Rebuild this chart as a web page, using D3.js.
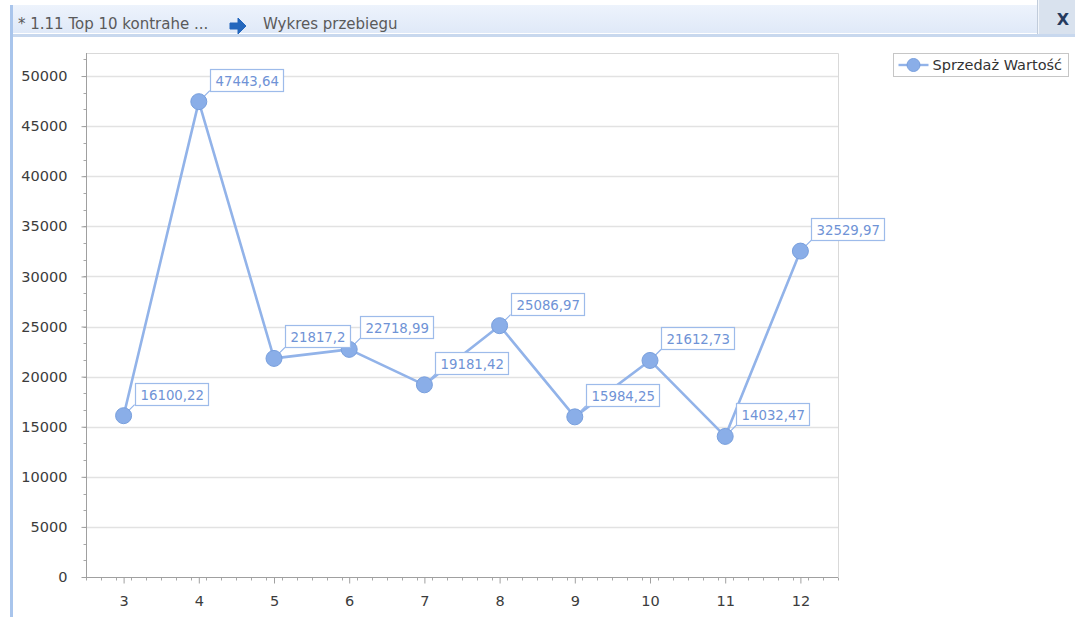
<!DOCTYPE html>
<html>
<head>
<meta charset="utf-8">
<script src="https://cdn.jsdelivr.net/npm/d3@7"></script>
<style>
  html, body { margin: 0; padding: 0; background: #ffffff; }
  svg { display: block; font-family: "DejaVu Sans", Tahoma, sans-serif; }
</style>
</head>
<body>
<svg id="chart" width="1075" height="617"></svg>
<script>
// Monthly sales value series
const months = [3, 4, 5, 6, 7, 8, 9, 10, 11, 12];
const salesValues = [16100.22, 47443.64, 21817.2, 22718.99, 19181.42, 25086.97, 15984.25, 21612.73, 14032.47, 32529.97];
const yTickValues = [0, 5000, 10000, 15000, 20000, 25000, 30000, 35000, 40000, 45000, 50000];
const seriesName = "Sprzedaż Wartość";
const tabTitle = "* 1.11 Top 10 kontrahe ...";
const viewTitle = "Wykres przebiegu";

const svg = d3.select("#chart");
const W = 1075, H = 617;

const lineColor = "#92b3e9";
const markerFill = "#8aaee8";
const markerStroke = "#789fdd";
const labelColor = "#6f93d6";

// ---- window frame / title bar ----
const defs = svg.append("defs");
const grad = defs.append("linearGradient").attr("id", "barGrad")
  .attr("x1", 0).attr("y1", 0).attr("x2", 0).attr("y2", 1);
grad.append("stop").attr("offset", "0%").attr("stop-color", "#edf3fc");
grad.append("stop").attr("offset", "100%").attr("stop-color", "#dfe9f8");

svg.append("rect").attr("x", 12).attr("y", 5).attr("width", W - 12).attr("height", 28)
  .attr("fill", "url(#barGrad)");
svg.append("rect").attr("x", 12).attr("y", 33).attr("width", W - 12).attr("height", 1)
  .attr("fill", "#ffffff");
svg.append("rect").attr("x", 12).attr("y", 34).attr("width", W - 12).attr("height", 3)
  .attr("fill", "#c8d8ee");
svg.append("rect").attr("x", 10).attr("y", 5).attr("width", 3).attr("height", H - 5)
  .attr("fill", "#a9c5ec");

// close button
svg.append("rect").attr("x", 1038).attr("y", 0).attr("width", 37).attr("height", 34)
  .attr("fill", "#d9e2ee");
svg.append("line").attr("x1", 1037.5).attr("x2", 1037.5).attr("y1", 0).attr("y2", 34)
  .attr("stroke", "#c1ccdb");
svg.append("line").attr("x1", 1038.5).attr("x2", 1038.5).attr("y1", 0).attr("y2", 34)
  .attr("stroke", "#f2f6fb");
svg.append("text").attr("x", 1063).attr("y", 25).attr("text-anchor", "middle")
  .attr("font-size", 16).attr("font-weight", "bold").attr("fill", "#253a5e").text("X");

// tab title, arrow, view title
svg.append("text").attr("x", 18).attr("y", 29).attr("font-size", 15)
  .attr("fill", "#5a5a5a").text(tabTitle);
svg.append("path")
  .attr("d", "M230,23 L238,23 L238,18 L246,26 L238,34 L238,29 L230,29 Z")
  .attr("fill", "#2467bd").attr("stroke", "#2467bd").attr("stroke-width", 1)
  .attr("stroke-linejoin", "round");
svg.append("text").attr("x", 263).attr("y", 29).attr("font-size", 15)
  .attr("fill", "#5a5a5a").text(viewTitle);

// ---- plot ----
const plot = { left: 86, right: 838, top: 53, bottom: 577 };

const x = d3.scaleLinear()
  .domain([months[0] - 0.5, months[months.length - 1] + 0.5])
  .range([plot.left, plot.right]);
const y = d3.scaleLinear().domain([0, 52300]).range([plot.bottom, plot.top]);

// horizontal grid lines
svg.append("g").selectAll("line").data(yTickValues.filter(v => v > 0)).join("line")
  .attr("x1", plot.left).attr("x2", plot.right)
  .attr("y1", d => Math.round(y(d)) + 0.5).attr("y2", d => Math.round(y(d)) + 0.5)
  .attr("stroke", "#e2e2e2").attr("stroke-width", 1.5);

// plot frame (top and right)
svg.append("path")
  .attr("d", `M${plot.left},${plot.top + 0.5} H${plot.right + 0.5} V${plot.bottom}`)
  .attr("fill", "none").attr("stroke", "#d9d9d9").attr("stroke-width", 1);

// y axis with minor ticks
const yMinor = d3.range(0, 52300, 5000 / 3);
const yAxisG = svg.append("g").attr("transform", `translate(${plot.left + 0.5},0)`);
yAxisG.selectAll("line.minor").data(yMinor).join("line").attr("class", "minor")
  .attr("x1", -3).attr("x2", 0)
  .attr("y1", d => Math.round(y(d)) + 0.5).attr("y2", d => Math.round(y(d)) + 0.5)
  .attr("stroke", "#a8a8a8");
const yAxis = d3.axisLeft(y).tickValues(yTickValues).tickSize(5).tickPadding(14)
  .tickFormat(d3.format("d"));
yAxisG.call(yAxis);
yAxisG.select(".domain").attr("d", `M0,${plot.top}V${plot.bottom}`).attr("stroke", "#a0a0a0");
yAxisG.selectAll(".tick line").attr("stroke", "#a0a0a0");
yAxisG.selectAll(".tick text").attr("font-size", 14.5).attr("fill", "#3c3c3c")
  .attr("font-family", "DejaVu Sans, sans-serif");

// x axis with minor ticks
const xStep = (x.range()[1] - x.range()[0]) / months.length;
const xMinor = d3.range(plot.left, plot.right + 0.1, xStep / 5);
const xAxisG = svg.append("g").attr("transform", `translate(0,${plot.bottom + 0.5})`);
xAxisG.selectAll("line.minor").data(xMinor).join("line").attr("class", "minor")
  .attr("x1", d => Math.round(d) + 0.5).attr("x2", d => Math.round(d) + 0.5)
  .attr("y1", 0).attr("y2", 3).attr("stroke", "#a8a8a8");
const xAxis = d3.axisBottom(x).tickValues(months).tickSize(6).tickPadding(12)
  .tickFormat(d3.format("d"));
xAxisG.call(xAxis);
xAxisG.select(".domain").attr("d", `M${plot.left},0H${plot.right}`).attr("stroke", "#a0a0a0");
xAxisG.selectAll(".tick line").attr("stroke", "#a0a0a0");
xAxisG.selectAll(".tick text").attr("font-size", 14.5).attr("fill", "#3c3c3c")
  .attr("font-family", "DejaVu Sans, sans-serif");

// ---- series ----
const points = months.map((m, i) => ({ m, v: salesValues[i] }));
const fmt = v => String(Math.round(v * 100) / 100).replace(".", ",");

svg.append("path").datum(points)
  .attr("d", d3.line().x(d => x(d.m)).y(d => y(d.v)))
  .attr("fill", "none").attr("stroke", lineColor).attr("stroke-width", 2.6)
  .attr("stroke-linejoin", "round");

// label connectors
svg.append("g").selectAll("line").data(points).join("line")
  .attr("x1", d => x(d.m)).attr("y1", d => y(d.v))
  .attr("x2", d => x(d.m) + 11).attr("y2", d => y(d.v) - 11)
  .attr("stroke", lineColor).attr("stroke-width", 1.2);

// markers
svg.append("g").selectAll("circle").data(points).join("circle")
  .attr("cx", d => x(d.m)).attr("cy", d => y(d.v)).attr("r", 8)
  .attr("fill", markerFill).attr("stroke", markerStroke).attr("stroke-width", 1);

// value labels
const labels = svg.append("g").selectAll("g").data(points).join("g")
  .attr("transform", d => `translate(${Math.round(x(d.m) + 11) + 0.5},${Math.round(y(d.v) - 11) + 0.5})`);
labels.append("text").attr("x", 5).attr("y", -6).attr("font-size", 13.3)
  .attr("fill", labelColor).text(d => fmt(d.v));
labels.each(function () {
  const g = d3.select(this);
  const w = g.select("text").node().getComputedTextLength();
  g.insert("rect", "text").attr("x", 0).attr("y", -22).attr("width", Math.round(w + 10)).attr("height", 22)
    .attr("fill", "#ffffff").attr("stroke", "#9dbbea").attr("stroke-width", 1.2);
});

// ---- legend ----
const lg = svg.append("g").attr("transform", "translate(893.5,53.5)");
lg.append("rect").attr("width", 175).attr("height", 23)
  .attr("fill", "#ffffff").attr("stroke", "#c6c6c6");
lg.append("line").attr("x1", 5).attr("x2", 35).attr("y1", 11.5).attr("y2", 11.5)
  .attr("stroke", lineColor).attr("stroke-width", 2.4);
lg.append("circle").attr("cx", 20).attr("cy", 11.5).attr("r", 6.5)
  .attr("fill", markerFill).attr("stroke", markerStroke);
lg.append("text").attr("x", 39).attr("y", 16.5).attr("font-size", 14.5)
  .attr("fill", "#333333").text(seriesName);
</script>
</body>
</html>
